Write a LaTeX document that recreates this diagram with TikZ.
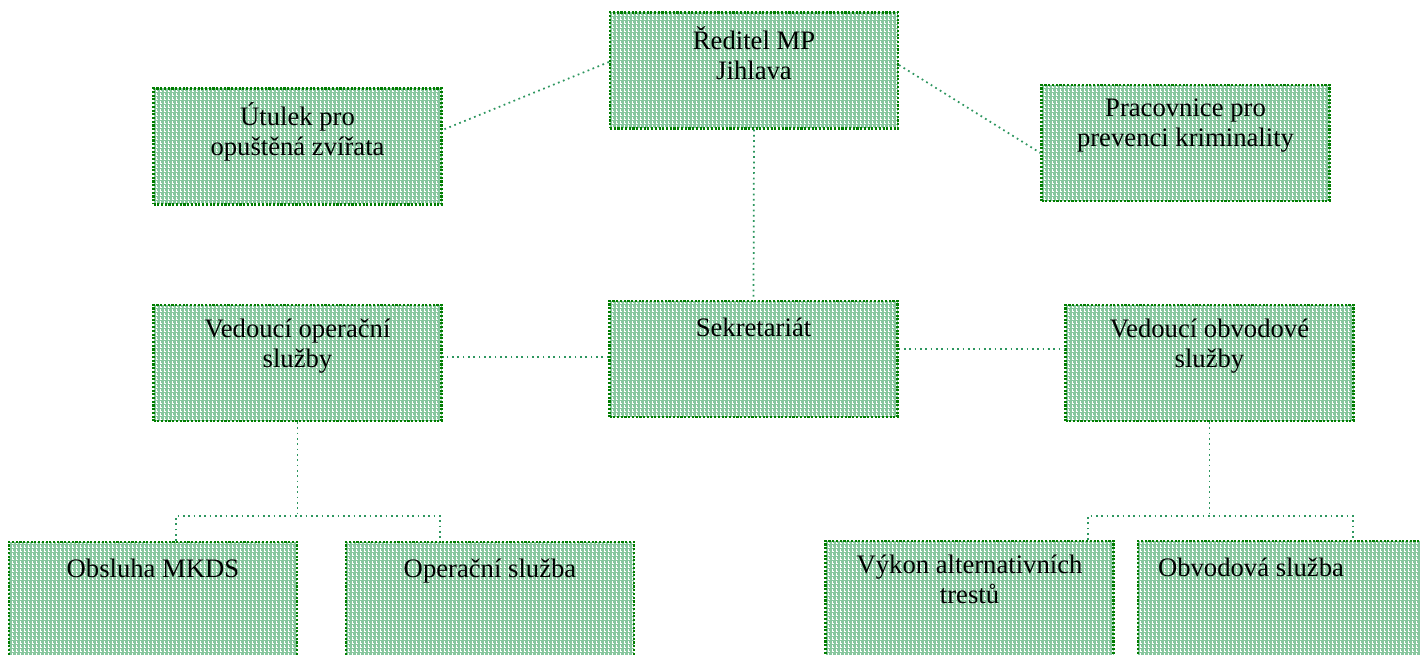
\documentclass[tikz,border=0pt]{standalone}
\usepackage{fontspec}
\setmainfont{Liberation Serif}
\usetikzlibrary{patterns}
\definecolor{boxfill}{RGB}{135,198,158}
\definecolor{boxline}{RGB}{0,125,0}
\definecolor{linkgreen}{RGB}{45,150,95}

\begin{document}
\begin{tikzpicture}[x=0.75pt,y=-0.75pt,
  unit/.style={preaction={fill=boxfill}, pattern=grid, pattern color=white,
    draw=boxline, line width=1.6pt, dash pattern=on 1.6pt off 1.2pt,
    minimum width=216pt, minimum height=87pt, inner sep=0pt},
  unittext/.style={anchor=north, inner sep=0pt, align=center,
    font=\fontsize{20}{22.5}\selectfont, execute at begin node=\strut},
  link/.style={linkgreen, line width=1.3pt, dash pattern=on 1.3pt off 2.7pt}]
\useasboundingbox (0,0) rectangle (1420,655);

\node[unit] (dir) at (754,70.5) {};
\node[unit] (utulek) at (297.5,146.5) {};
\node[unit] (prac) at (1185.5,143) {};
\node[unit] (sekr) at (753.5,359) {};
\node[unit] (vop) at (297.5,363) {};
\node[unit] (vobv) at (1209.5,363) {};
\node[unit] (obsl) at (153,600) {};
\node[unit] (opsl) at (490,600) {};
\node[unit] (vykon) at (969.5,599) {};
\node[unit] (obvsl) at (1282,599) {};

\node[unittext] (dir-t) at ([yshift=-11.25pt]dir.north) {Ředitel MP\\Jihlava};
\node[unittext] (utulek-t) at ([yshift=-11.25pt]utulek.north) {Útulek pro\\opuštěná zvířata};
\node[unittext] (prac-t) at ([yshift=-11.25pt]prac.north) {Pracovnice pro\\prevenci kriminality};
\node[unittext] (sekr-t) at ([yshift=-11.25pt]sekr.north) {Sekretariát};
\node[unittext] (vop-t) at ([yshift=-11.25pt]vop.north) {Vedoucí operační\\služby};
\node[unittext] (vobv-t) at ([yshift=-11.25pt]vobv.north) {Vedoucí obvodové\\služby};
\node[unittext] (obsl-t) at ([yshift=-11.25pt]obsl.north) {Obsluha MKDS};
\node[unittext] (opsl-t) at ([yshift=-11.25pt]opsl.north) {Operační služba};
\node[unittext] (vykon-t) at ([yshift=-11.25pt]vykon.north) {Výkon alternativních\\trestů};
\node[unittext] (obvsl-t) at ([xshift=-23.25pt,yshift=-11.25pt]obvsl.north) {Obvodová služba};

%links
\draw[link] ([shift={(0,-8.5)}]dir.west) -- ([shift={(0,-16.5)}]utulek.east);
\draw[link] ([shift={(0,-5.5)}]dir.east) -- ([shift={(0,10)}]prac.west);
\draw[link] (dir.south) -- (sekr.north);
\coordinate (s1) at ([shift={(0,-2)}]sekr.west);
\coordinate (s2) at ([shift={(0,-10)}]sekr.east);
\draw[link] (s1) -- (s1 -| vop.east);
\draw[link] (s2) -- (s2 -| vobv.west);

\draw[link] (vop.south) -- ++(0,96);
\draw[link] ([shift={(23,0)}]obsl.north) -- ++(0,-25) -| ([shift={(-50,0)}]opsl.north);
\draw[link] (vobv.south) -- ++(0,96);
\draw[link] ([shift={(118.5,0)}]vykon.north) -- ++(0,-24) -| ([shift={(71,0)}]obvsl.north);
\end{tikzpicture}
\end{document}
